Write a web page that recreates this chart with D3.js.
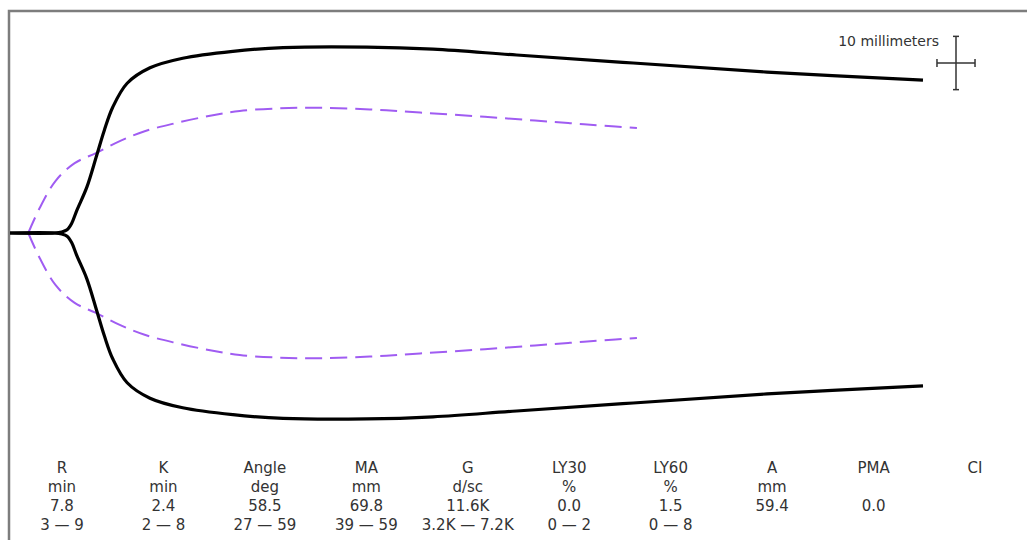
<!DOCTYPE html>
<html>
<head>
<meta charset="utf-8">
<script src="https://cdn.jsdelivr.net/npm/d3@7"></script>
<style>
  body { margin: 0; background: #fff; }
  text { font-family: "DejaVu Sans", Verdana, sans-serif; fill: #333; }
</style>
</head>
<body>
<div id="d3-container"></div>
<script>
// patient tracing: time in minutes, half-amplitude in mm
const traceTime = [0, 5.9, 6.8, 7.5, 8.1, 8.8, 10.1, 11.4, 12.4, 13.5, 15.4, 18.4, 22.7, 29.3, 35.9, 46.9, 55.6, 66.6, 81.9, 99.5, 120];
const traceAmp  = [0, 0, 0.2, 0.6, 1.8, 4.3, 8.6, 14.6, 19.3, 23.6, 28.1, 31.0, 32.8, 34.1, 34.8, 34.9, 34.5, 33.4, 31.9, 30.2, 28.7];

// reference tracing (dashed)
const refTime = [0, 2.4, 3.9, 6.0, 8.5, 11.3, 14.5, 17.7, 21.7, 26.3, 30.2, 35.5, 40.7, 47.3, 53.9, 62.4, 69.0, 73.6, 77.5, 82.4];
const refAmp  = [0, 0, 4.7, 9.8, 13.1, 15.0, 17.3, 19.1, 20.6, 22.0, 22.9, 23.4, 23.5, 23.2, 22.6, 21.8, 21.1, 20.6, 20.2, 19.7];

// parameter table
const paramNames  = ["R", "K", "Angle", "MA", "G", "LY30", "LY60", "A", "PMA", "CI"];
const paramUnits  = ["min", "min", "deg", "mm", "d/sc", "%", "%", "mm", "", ""];
const paramValues = ["7.8", "2.4", "58.5", "69.8", "11.6K", "0.0", "1.5", "59.4", "0.0", ""];
const paramRanges = ["3 \u2014 9", "2 \u2014 8", "27 \u2014 59", "39 \u2014 59", "3.2K \u2014 7.2K", "0 \u2014 2", "0 \u2014 8", "", "", ""];

function drawChart() {
    const width = 1027;
    const height = 540;

    const svg = d3.select('#d3-container')
        .append('svg')
        .attr('width', width)
        .attr('height', height);

    // x: minutes, y: mm (centre line = 0)
    const x = d3.scaleLinear()
        .domain([0, 120])
        .range([10, 923]);
    const y = d3.scaleLinear()
        .domain([-35, 35])
        .range([419.5, 46.5]);

    // frame (top and left only)
    svg.append("path")
        .attr("d", `M9,540 V11 H${width}`)
        .attr("fill", "none")
        .attr("stroke", "#7d7d7d")
        .attr("stroke-width", 2.5);

    const smooth = d3.curveCatmullRom.alpha(0.5);
    const upper = d3.line().x(d => x(d[0])).y(d => y(d[1])).curve(smooth);
    const lower = d3.line().x(d => x(d[0])).y(d => y(-d[1])).curve(smooth);

    const refPts = refTime.map((t, i) => [t, refAmp[i]]);
    const tracePts = traceTime.map((t, i) => [t, traceAmp[i]]);

    // reference tracing
    const refColor = "#a05cf2";
    svg.append("line")
        .attr("x1", x(refTime[0])).attr("x2", x(refTime[1]))
        .attr("y1", y(0)).attr("y2", y(0))
        .attr("stroke", refColor)
        .attr("stroke-width", 2);
    [upper, lower].forEach(gen => {
        svg.append("path")
            .datum(refPts.slice(1))
            .attr("d", gen)
            .attr("fill", "none")
            .attr("stroke", refColor)
            .attr("stroke-width", 2)
            .attr("stroke-dasharray", "17,8");
    });

    // patient tracing
    [upper, lower].forEach(gen => {
        svg.append("path")
            .datum(tracePts)
            .attr("d", gen)
            .attr("fill", "none")
            .attr("stroke", "#000")
            .attr("stroke-width", 3.2)
            .attr("stroke-linejoin", "round");
    });

    // 10 mm scale cross
    const cx = 956, cy = 63;
    const halfV = (y(0) - y(5));
    const halfH = (x(2.5) - x(0));
    const bar = svg.append("g")
        .attr("stroke", "#333")
        .attr("stroke-width", 1.5);
    bar.append("line").attr("x1", cx).attr("x2", cx).attr("y1", cy - halfV).attr("y2", cy + halfV);
    bar.append("line").attr("x1", cx - halfH).attr("x2", cx + halfH).attr("y1", cy).attr("y2", cy);
    bar.append("line").attr("x1", cx - 3).attr("x2", cx + 3).attr("y1", cy - halfV).attr("y2", cy - halfV);
    bar.append("line").attr("x1", cx - 3).attr("x2", cx + 3).attr("y1", cy + halfV).attr("y2", cy + halfV);
    bar.append("line").attr("x1", cx - halfH).attr("x2", cx - halfH).attr("y1", cy - 4).attr("y2", cy + 4);
    bar.append("line").attr("x1", cx + halfH).attr("x2", cx + halfH).attr("y1", cy - 4).attr("y2", cy + 4);

    svg.append("text")
        .attr("x", 939)
        .attr("y", 46)
        .attr("text-anchor", "end")
        .attr("font-size", "14px")
        .text("10 millimeters");

    // parameter table
    const col = d3.scalePoint()
        .domain(d3.range(paramNames.length))
        .range([62, 975]);

    const rows = [paramNames, paramUnits, paramValues, paramRanges];
    const rowY = [473, 492, 511, 530];

    rows.forEach((row, r) => {
        svg.append("g")
            .selectAll("text")
            .data(row)
            .join("text")
            .attr("x", (d, i) => col(i))
            .attr("y", rowY[r])
            .attr("text-anchor", "middle")
            .attr("font-size", "15px")
            .text(d => d);
    });

    svg.node();
}

drawChart();
</script>
</body>
</html>
